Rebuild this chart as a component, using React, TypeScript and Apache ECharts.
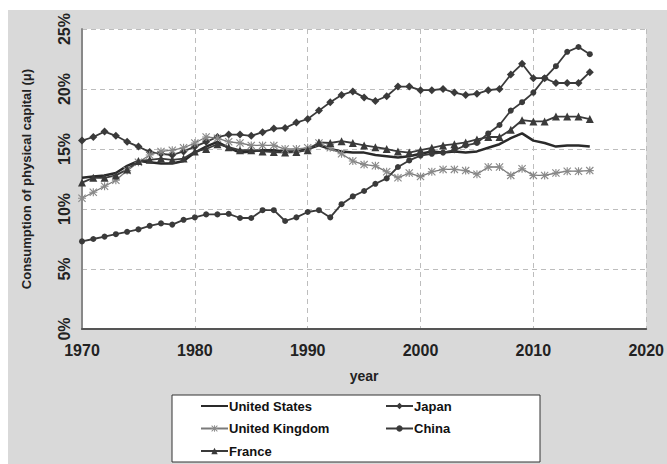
import React, { useEffect, useRef } from "react";
import * as echarts from "echarts";

const years: number[] = [];
for (let y = 1970; y <= 2015; y++) years.push(y);

const unitedStates = [12.6, 12.7, 12.8, 13.0, 13.6, 14.0, 13.9, 13.8, 13.8, 14.0, 14.7, 15.2, 15.6, 15.1, 14.7, 14.8, 14.9, 14.9, 14.8, 14.8, 15.0, 15.3, 15.0, 14.8, 14.7, 14.7, 14.5, 14.4, 14.3, 14.4, 14.6, 14.8, 14.7, 14.8, 14.7, 14.8, 15.1, 15.4, 15.9, 16.3, 15.7, 15.5, 15.2, 15.3, 15.3, 15.2];
const japan = [15.7, 16.0, 16.45, 16.1, 15.6, 15.2, 14.75, 14.6, 14.5, 14.8, 15.2, 15.6, 16.0, 16.2, 16.2, 16.1, 16.4, 16.7, 16.75, 17.2, 17.5, 18.2, 18.9, 19.5, 19.8, 19.3, 19.0, 19.4, 20.2, 20.2, 19.9, 19.9, 20.0, 19.7, 19.5, 19.6, 19.9, 20.0, 21.2, 22.1, 20.9, 20.9, 20.5, 20.5, 20.5, 21.4];
const unitedKingdom = [10.9, 11.4, 11.9, 12.4, 13.2, 13.9, 14.5, 14.8, 14.9, 15.1, 15.5, 16.0, 15.9, 15.6, 15.5, 15.3, 15.3, 15.3, 15.0, 15.0, 15.1, 15.5, 15.1, 14.6, 14.0, 13.7, 13.6, 13.1, 12.6, 13.0, 12.7, 13.1, 13.3, 13.3, 13.2, 12.9, 13.5, 13.5, 12.8, 13.35, 12.8, 12.8, 13.0, 13.15, 13.15, 13.2];
const china = [7.3, 7.5, 7.7, 7.9, 8.1, 8.3, 8.6, 8.8, 8.7, 9.1, 9.3, 9.55, 9.55, 9.6, 9.25, 9.25, 9.9, 9.9, 9.0, 9.3, 9.75, 9.9, 9.3, 10.4, 11.05, 11.5, 12.1, 12.55, 13.5, 14.05, 14.45, 14.6, 14.7, 14.9, 15.3, 15.5, 16.3, 17.0, 18.2, 18.9, 19.7, 20.9, 21.9, 23.1, 23.5, 22.9];
const france = [12.2, 12.6, 12.6, 12.8, 13.3, 14.0, 14.1, 14.2, 14.1, 14.2, 14.8, 15.0, 15.4, 15.15, 14.9, 14.9, 14.8, 14.75, 14.7, 14.75, 14.9, 15.55, 15.5, 15.65, 15.5, 15.3, 15.15, 15.0, 14.8, 14.7, 14.9, 15.1, 15.3, 15.4, 15.55, 15.8, 16.0, 16.0, 16.6, 17.4, 17.3, 17.3, 17.7, 17.7, 17.7, 17.5];

const seriesNames = ["United States", "Japan", "United Kingdom", "China", "France"];
const xTicks = [1970, 1980, 1990, 2000, 2010, 2020];
const yTicks = [0, 5, 10, 15, 20, 25];

const asterisk =
  "path://M4.3,0 L5.7,0 L5.7,10 L4.3,10 Z M0,1 L1,0 L10,9 L9,10 Z M9,0 L10,1 L1,10 L0,9 Z M0,4.3 L10,4.3 L10,5.7 L0,5.7 Z";

const pair = (vals: number[]) => years.map((y, i) => [y, vals[i]]);

export default function App() {
  const ref = useRef<HTMLDivElement>(null);
  useEffect(() => {
    if (!ref.current) return;
    const chart = echarts.init(ref.current, null, { renderer: "svg" });
    const font = "Liberation Sans, Arial, sans-serif";
    const dark = "#3a3a3a";
    const legendText = {
      fontSize: 13,
      fontWeight: "bold",
      color: "#111",
      fontFamily: font,
      lineHeight: 14,
      padding: [0, 0, 0, -4],
    };
    const legendBase = {
      orient: "vertical",
      top: 389,
      padding: 0,
      itemWidth: 27,
      itemHeight: 8,
      itemGap: 8.5,
      textStyle: legendText,
    };
    chart.setOption({
      animation: false,
      backgroundColor: "#d9d9d9",
      textStyle: { fontFamily: font },
      grid: {
        left: 74,
        right: 16,
        top: 18,
        bottom: 135,
        show: true,
        backgroundColor: "#ffffff",
        borderWidth: 0,
      },
      xAxis: {
        type: "value",
        min: xTicks[0],
        max: xTicks[xTicks.length - 1],
        interval: 10,
        name: "year",
        nameLocation: "middle",
        nameGap: 40,
        nameTextStyle: { fontSize: 14, fontWeight: "bold", color: "#222", fontFamily: font },
        axisLine: { show: true, onZero: false, lineStyle: { color: "#555", width: 2 } },
        axisTick: { show: false },
        axisLabel: {
          fontSize: 16,
          fontWeight: "bold",
          color: "#222",
          margin: 13,
          fontFamily: font,
          formatter: (v: number) => String(v),
        },
        splitLine: { show: true, lineStyle: { color: "#bdbdbd", type: [5, 4], width: 1 } },
      },
      yAxis: {
        type: "value",
        min: yTicks[0],
        max: yTicks[yTicks.length - 1],
        interval: 5,
        name: "Consumption of physical capital (μ)",
        nameLocation: "middle",
        nameGap: 49,
        nameRotate: 90,
        nameTextStyle: { fontSize: 13, fontWeight: "bold", color: "#222", fontFamily: font },
        axisLine: { show: true, lineStyle: { color: "#888", width: 2 } },
        axisTick: { show: false },
        axisLabel: {
          fontSize: 16,
          fontWeight: "bold",
          color: "#222",
          rotate: 90,
          margin: 10,
          fontFamily: font,
          formatter: "{value}%",
        },
        splitLine: { show: true, lineStyle: { color: "#bdbdbd", type: [5, 4], width: 1 } },
      },
      legend: [
        {
          ...legendBase,
          left: 192,
          data: [
            { name: seriesNames[0], itemStyle: { opacity: 0 } },
            { name: seriesNames[2] },
            { name: seriesNames[4] },
          ],
        },
        {
          ...legendBase,
          left: 377,
          data: [{ name: seriesNames[1] }, { name: seriesNames[3] }],
        },
      ],
      graphic: [
        {
          type: "rect",
          z: -1,
          shape: { x: 164, y: 385, width: 368, height: 67 },
          style: { fill: "#ffffff", stroke: "#333", lineWidth: 1 },
        },
      ],
      series: [
        {
          name: seriesNames[0],
          type: "line",
          data: pair(unitedStates),
          symbol: "none",
          lineStyle: { color: "#2a2a2a", width: 2.5 },
          itemStyle: { color: "#2a2a2a" },
        },
        {
          name: seriesNames[1],
          type: "line",
          data: pair(japan),
          symbol: "diamond",
          symbolSize: 8,
          lineStyle: { color: dark, width: 1.8 },
          itemStyle: { color: dark },
        },
        {
          name: seriesNames[2],
          type: "line",
          data: pair(unitedKingdom),
          symbol: asterisk,
          symbolSize: 8,
          lineStyle: { color: "#7a7a7a", width: 1.3 },
          itemStyle: { color: "#8a8a8a" },
        },
        {
          name: seriesNames[3],
          type: "line",
          data: pair(china),
          symbol: "circle",
          symbolSize: 6,
          lineStyle: { color: dark, width: 1.8 },
          itemStyle: { color: dark },
        },
        {
          name: seriesNames[4],
          type: "line",
          data: pair(france),
          symbol: "triangle",
          symbolSize: 8,
          lineStyle: { color: dark, width: 1.8 },
          itemStyle: { color: dark },
        },
      ],
    });
    return () => chart.dispose();
  }, []);
  return (
    <div
      ref={ref}
      style={{ position: "absolute", left: 8, top: 10, width: 659, height: 454 }}
    />
  );
}
